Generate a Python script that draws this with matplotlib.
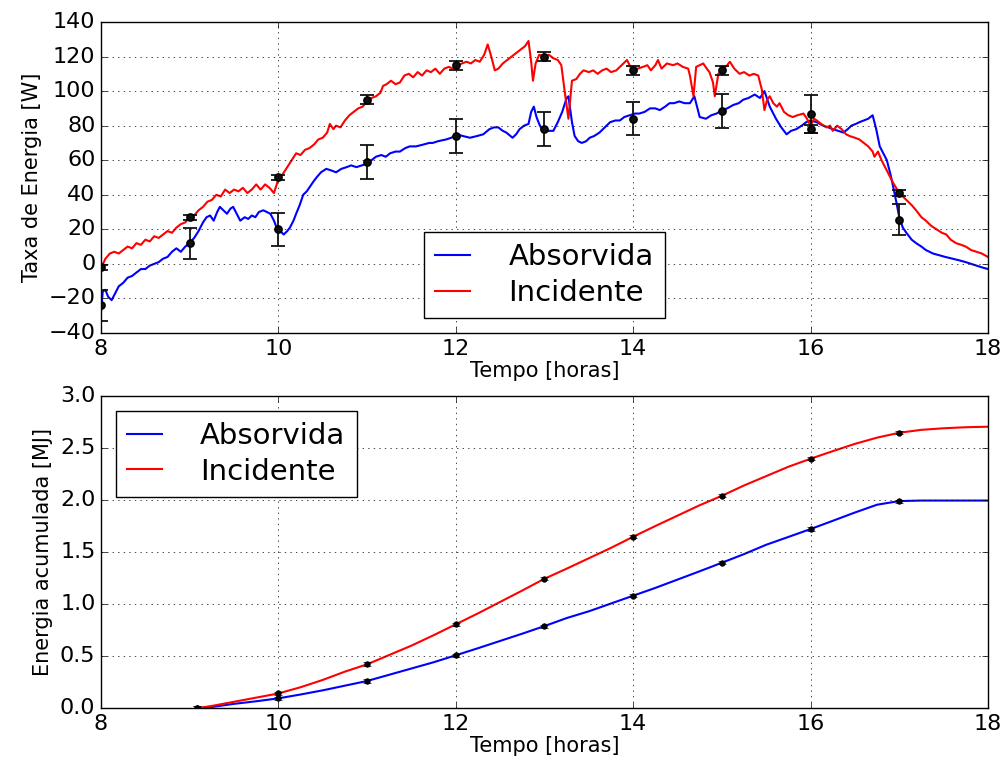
import matplotlib
matplotlib.use("Agg")
import matplotlib.pyplot as plt

# --- taxa de energia (W), curvas ---
t_inc = [8.00, 8.05, 8.10, 8.15, 8.20, 8.25, 8.30, 8.35, 8.40, 8.45, 8.50, 8.55, 8.60, 8.65, 8.70, 8.75,
         8.80, 8.85, 8.90, 8.95, 9.00, 9.05, 9.10, 9.15, 9.20, 9.25, 9.30, 9.35, 9.40, 9.45, 9.50, 9.55,
         9.60, 9.65, 9.70, 9.75, 9.80, 9.85, 9.90, 9.95, 10.00, 10.05, 10.10, 10.15, 10.20, 10.25, 10.30,
         10.35, 10.40, 10.45, 10.50, 10.55, 10.58, 10.62, 10.65, 10.70, 10.75, 10.80, 10.85, 10.90, 10.95,
         11.00, 11.05, 11.10, 11.15, 11.18, 11.22, 11.27, 11.32, 11.37, 11.42, 11.47, 11.52, 11.57, 11.62,
         11.67, 11.72, 11.77, 11.82, 11.87, 11.92, 11.97, 12.02, 12.07, 12.12, 12.17, 12.22, 12.27, 12.32,
         12.36, 12.40, 12.44, 12.48, 12.53, 12.58, 12.63, 12.68, 12.73, 12.78, 12.82, 12.85, 12.87, 12.90,
         12.94, 13.00, 13.05, 13.10, 13.15, 13.19, 13.23, 13.27, 13.31, 13.36, 13.40, 13.44, 13.50, 13.55,
         13.60, 13.65, 13.70, 13.75, 13.81, 13.87, 13.93, 14.00, 14.05, 14.11, 14.16, 14.20, 14.25, 14.28,
         14.32, 14.38, 14.45, 14.50, 14.56, 14.62, 14.64, 14.68, 14.71, 14.75, 14.79, 14.83, 14.86, 14.90,
         14.92, 14.96, 15.02, 15.06, 15.09, 15.14, 15.20, 15.25, 15.31, 15.36, 15.41, 15.45, 15.48, 15.51,
         15.54, 15.58, 15.62, 15.65, 15.70, 15.75, 15.80, 15.85, 15.92, 15.96, 16.00, 16.04, 16.07, 16.12,
         16.18, 16.22, 16.25, 16.30, 16.35, 16.40, 16.44, 16.50, 16.55, 16.60, 16.65, 16.70, 16.72, 16.76,
         16.80, 16.86, 16.90, 16.93, 17.00, 17.04, 17.08, 17.14, 17.19, 17.25, 17.30, 17.36, 17.42, 17.48,
         17.53, 17.58, 17.64, 17.70, 17.75, 17.81, 17.87, 17.93, 18.00]
p_inc = [-2.5, 3, 6, 7, 6, 8, 10, 9, 12, 11, 14, 13, 16, 15, 17, 19,
         18, 21, 23, 24, 27, 28, 31, 33, 36, 37, 40, 39, 43, 41, 43, 42,
         44, 41, 43, 46, 43, 46, 44, 41, 49, 52, 56, 60, 64, 63, 66,
         67, 69, 72, 73, 76, 81, 78, 80, 79, 83, 86, 88, 90, 91,
         94, 96, 97, 99, 103, 104, 106, 104, 105, 109, 110, 108, 111, 109,
         112, 111, 113, 110, 113, 114, 113, 115, 116, 117, 116, 118, 117, 121,
         127, 120, 112, 113, 116, 118, 120, 122, 124, 126, 129, 117, 106, 116,
         121, 120, 121, 119, 118, 115, 99, 84, 106, 107, 110, 112, 111, 112,
         110, 112, 113, 111, 112, 115, 118, 111, 113, 114, 115, 112, 115, 118,
         113, 116, 115, 116, 114, 113, 109, 97, 114, 115, 116, 113, 111, 105,
         97, 110, 113, 115, 117, 113, 110, 111, 109, 110, 109, 101, 89, 95,
         97, 93, 91, 93, 88, 86, 85, 86, 87, 84, 80, 84, 83, 81,
         79, 80, 77, 80, 78, 75, 74, 73, 72, 70, 68, 65, 62, 65,
         60, 54, 50, 47, 41, 39, 37, 34, 31, 27, 25, 22, 20, 18,
         17, 14, 12, 11, 10, 8, 7, 6, 4]

t_abs = [8.00, 8.02, 8.05, 8.08, 8.12, 8.16, 8.20, 8.25, 8.30, 8.35, 8.40, 8.45, 8.50, 8.55, 8.60, 8.65,
         8.70, 8.75, 8.80, 8.85, 8.90, 8.95, 9.00, 9.05, 9.10, 9.15, 9.19, 9.23, 9.27, 9.31, 9.34, 9.38,
         9.42, 9.46, 9.49, 9.53, 9.57, 9.62, 9.66, 9.70, 9.74, 9.78, 9.83, 9.87, 9.91, 9.95, 9.98, 10.02,
         10.06, 10.10, 10.13, 10.17, 10.20, 10.24, 10.28, 10.32, 10.36, 10.40, 10.43, 10.48, 10.54, 10.60,
         10.65, 10.71, 10.77, 10.82, 10.88, 10.94, 11.00, 11.05, 11.10, 11.16, 11.21, 11.26, 11.32, 11.37,
         11.43, 11.48, 11.55, 11.63, 11.70, 11.74, 11.80, 11.89, 11.95, 12.01, 12.08, 12.16, 12.24, 12.31,
         12.38, 12.43, 12.48, 12.53, 12.57, 12.64, 12.68, 12.72, 12.77, 12.82, 12.85, 12.88, 12.91, 12.94,
         12.97, 13.02, 13.10, 13.15, 13.20, 13.25, 13.27, 13.31, 13.34, 13.38, 13.42, 13.47, 13.51, 13.56,
         13.62, 13.68, 13.74, 13.80, 13.85, 13.90, 13.96, 14.02, 14.07, 14.13, 14.19, 14.25, 14.30, 14.36,
         14.41, 14.46, 14.52, 14.58, 14.64, 14.69, 14.75, 14.82, 14.88, 14.94, 15.00, 15.06, 15.13, 15.19,
         15.24, 15.30, 15.37, 15.43, 15.48, 15.54, 15.61, 15.67, 15.73, 15.78, 15.84, 15.90, 15.95, 16.00,
         16.07, 16.14, 16.20, 16.25, 16.31, 16.37, 16.42, 16.46, 16.51, 16.55, 16.60, 16.65, 16.70, 16.74,
         16.78, 16.82, 16.86, 16.90, 16.93, 16.97, 17.00, 17.04, 17.08, 17.14, 17.19, 17.25, 17.30, 17.38,
         17.45, 17.52, 17.60, 17.68, 17.75, 17.81, 17.87, 17.93, 18.00]
p_abs = [-28, -16, -15, -19, -21, -17, -13, -11, -8, -7, -5, -3, -3, -1, 0, 1,
         3, 4, 7, 9, 7, 10, 12, 15, 19, 24, 27, 28, 25, 30, 33, 31,
         29, 32, 33, 29, 25, 27, 26, 28, 27, 30, 31, 30, 29, 25, 21, 19,
         17, 19, 21, 25, 29, 34, 40, 42, 45, 48, 50, 53, 55, 54,
         53, 55, 56, 57, 56, 57, 58, 60, 62, 63, 62, 64, 65, 65,
         67, 68, 68, 69, 70, 70, 71, 72, 73, 75, 74, 73, 74, 75,
         78, 79, 79, 77, 76, 73, 75, 78, 80, 81, 88, 91, 85, 81,
         78, 77, 77, 82, 88, 96, 97, 82, 74, 71, 70, 71, 73, 74,
         76, 79, 82, 83, 83, 85, 86, 87, 87, 88, 90, 90, 89, 91,
         93, 93, 94, 93, 93, 97, 85, 84, 86, 87, 89, 90, 92, 93,
         95, 96, 98, 96, 100, 91, 84, 79, 75, 77, 78, 80, 82, 83,
         82, 80, 79, 78, 77, 76, 78, 80, 81, 82, 83, 84, 86, 78,
         68, 64, 60, 52, 45, 35, 27, 21, 18, 14, 12, 10, 8, 6,
         5, 4, 3, 2, 1, 0, -1, -2, -3]

# pontos horarios com barras de erro
h_err = [8, 9, 10, 11, 12, 13, 14, 15, 16, 17]
abs_pts = [-24, 12, 20, 59, 74, 78, 84, 88.5, 87, 25.5]
abs_err = [9, 9, 9.5, 10, 10, 9.7, 9.5, 9.6, 11, 9]
inc_pts = [-2, 27, 50, 95, 115, 120, 112, 112, 78, 41]
inc_err = [1.5, 1.5, 1.5, 2.5, 2.5, 2.5, 2.5, 2.5, 2.5, 2]

# --- energia acumulada (MJ) ---
t_cum = [9.10, 9.25, 9.50, 9.75, 10.00, 10.25, 10.50, 10.75, 11.00, 11.25, 11.50, 11.75, 12.00,
         12.25, 12.50, 12.75, 13.00, 13.25, 13.50, 13.75, 14.00, 14.25, 14.50, 14.75, 15.00,
         15.25, 15.50, 15.75, 16.00, 16.25, 16.50, 16.75, 17.00, 17.25, 17.50, 17.75, 18.00]
cum_inc = [0.0, 0.02, 0.06, 0.10, 0.14, 0.20, 0.27, 0.35, 0.42, 0.51, 0.60, 0.70, 0.805,
           0.91, 1.02, 1.13, 1.243, 1.34, 1.44, 1.54, 1.647, 1.75, 1.85, 1.95, 2.041,
           2.14, 2.23, 2.32, 2.397, 2.47, 2.54, 2.60, 2.647, 2.675, 2.69, 2.70, 2.705]
cum_abs = [0.0, 0.01, 0.04, 0.065, 0.093, 0.13, 0.17, 0.215, 0.26, 0.32, 0.38, 0.44, 0.507,
           0.575, 0.645, 0.715, 0.788, 0.865, 0.93, 1.005, 1.08, 1.155, 1.235, 1.315, 1.397,
           1.48, 1.57, 1.645, 1.721, 1.80, 1.88, 1.955, 1.99, 1.995, 1.995, 1.995, 1.995]

h_cum = [9.08, 10, 11, 12, 13, 14, 15, 16, 17]
cum_inc_pts = [0.0, 0.141, 0.423, 0.805, 1.243, 1.647, 2.041, 2.397, 2.647]
cum_abs_pts = [0.0, 0.093, 0.26, 0.507, 0.788, 1.08, 1.397, 1.721, 1.987]

plt.style.use("classic")
plt.rcParams["figure.facecolor"] = "white"
plt.rcParams["savefig.facecolor"] = "white"

fig = plt.figure(figsize=(10.03, 7.69), dpi=100)
ax1 = fig.add_axes([0.1007, 0.567, 0.8843, 0.4044])
ax2 = fig.add_axes([0.1007, 0.0793, 0.8843, 0.4057])

# grafico de cima
ax1.plot(t_abs, p_abs, color="#0000ff", lw=1.5, label="Absorvida")
ax1.plot(t_inc, p_inc, color="#ff0000", lw=1.5, label="Incidente")
ax1.errorbar(h_err, abs_pts, yerr=abs_err, fmt="o", color="#111111", ms=5, capsize=5, elinewidth=1.3, mew=1.3)
ax1.errorbar(h_err, inc_pts, yerr=inc_err, fmt="o", color="#111111", ms=5, capsize=5, elinewidth=1.3, mew=1.3)
ax1.set_xlim(8, 18)
ax1.set_ylim(-40, 140)
ax1.set_xticks([8, 10, 12, 14, 16, 18])
ax1.set_yticks(range(-40, 141, 20))
ax1.grid(True)
ax1.tick_params(labelsize=16)
ax1.set_xlabel("Tempo [horas]", fontsize=15, labelpad=2)
ax1.set_ylabel("Taxa de Energia [W]", fontsize=15)
ax1.legend(loc="lower center", fontsize=21, handlelength=1.2, handletextpad=1.3,
           labelspacing=0.25, borderpad=0.4, numpoints=1)

# grafico de baixo
ax2.plot(t_cum, cum_abs, color="#0000ff", lw=1.5, label="Absorvida")
ax2.plot(t_cum, cum_inc, color="#ff0000", lw=1.5, label="Incidente")
ax2.errorbar(h_cum, cum_abs_pts, yerr=0.015, fmt="o", color="black", ms=4, capsize=3, elinewidth=1.2)
ax2.errorbar(h_cum, cum_inc_pts, yerr=0.015, fmt="o", color="black", ms=4, capsize=3, elinewidth=1.2)
ax2.set_xlim(8, 18)
ax2.set_ylim(0, 3)
ax2.set_xticks([8, 10, 12, 14, 16, 18])
ax2.set_yticks([0.0, 0.5, 1.0, 1.5, 2.0, 2.5, 3.0])
ax2.grid(True)
ax2.tick_params(labelsize=16)
ax2.set_xlabel("Tempo [horas]", fontsize=15, labelpad=2)
ax2.set_ylabel("Energia acumulada [MJ]", fontsize=15)
ax2.legend(loc="upper left", fontsize=21, handlelength=1.2, handletextpad=1.3,
           labelspacing=0.25, borderpad=0.4, numpoints=1)

fig.savefig("out.png", dpi=100)
